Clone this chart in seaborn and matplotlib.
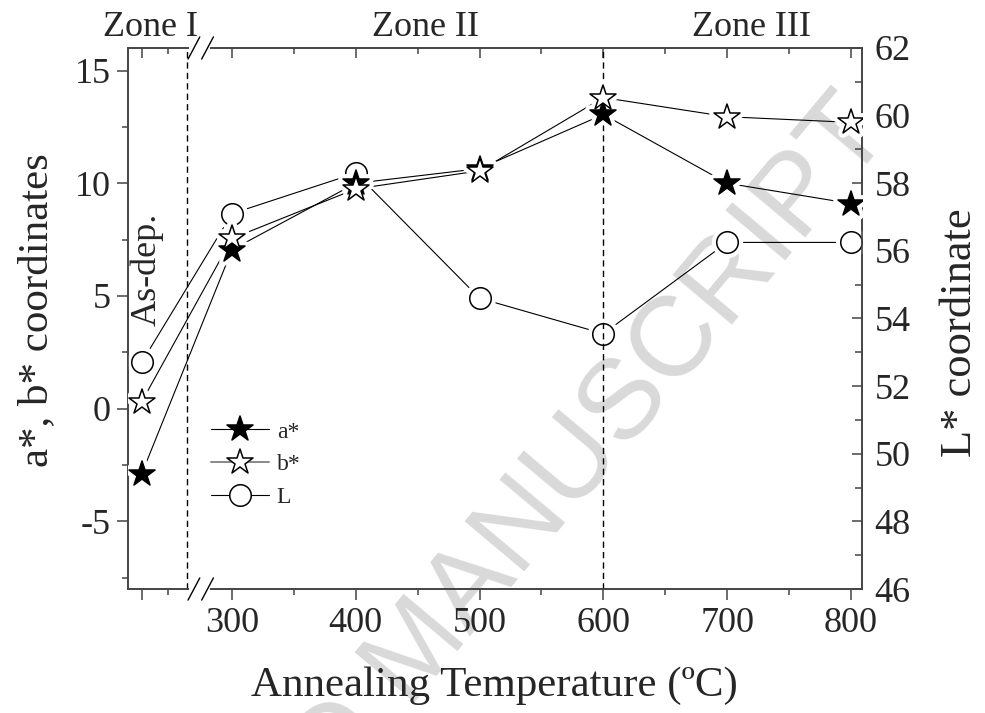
import matplotlib
matplotlib.use("Agg")
import matplotlib.pyplot as plt
from matplotlib.lines import Line2D
from matplotlib.markers import MarkerStyle
import matplotlib.transforms as mtransforms
import seaborn as sns
import pandas as pd

# ---------------- data ----------------
temps = [227, 300, 400, 500, 600, 700, 800]          # first point = as-deposited
a_star = [-2.9, 7.05, 10.0, 10.65, 13.05, 10.0, 9.1]
b_star = [0.3, 7.55, 9.75, 10.55, 13.8, 12.95, 12.7]
L_coord = [52.7, 57.1, 58.3, 54.6, 53.55, 56.25, 56.25]

x_major = [227, 300, 400, 500, 600, 700, 800]
x_labels = ["", "300", "400", "500", "600", "700", "800"]
x_minor = [248, 350, 450, 550, 650, 750]
left_ticks = [-5, 0, 5, 10, 15]
left_minor = [-7.5, -2.5, 2.5, 7.5, 12.5]
right_ticks = [46, 48, 50, 52, 54, 56, 58, 60, 62]
right_minor = [47, 49, 51, 53, 55, 57, 59, 61]
zones = ["Zone I", "Zone II", "Zone III"]
zone_bounds = [263.6, 600]

df = pd.DataFrame({"T": temps, "a": a_star, "b": b_star, "L": L_coord})

sns.set_theme(style="ticks")
plt.rcParams["font.family"] = ["Liberation Serif", "DejaVu Serif"]

fig = plt.figure(figsize=(9.85, 7.13), dpi=100)
fig.patch.set_facecolor("white")
ax = fig.add_axes([0.1297, 0.1739, 0.7454, 0.7588])
ax2 = ax.twinx()
ax.set_zorder(2)
ax2.set_zorder(1)
ax.set_facecolor("none")
ax2.set_facecolor("none")

# watermark
fig.text(0.9066, 0.8149, "ACCEPTED MANUSCRIPT", rotation=50, rotation_mode="anchor",
         ha="right", va="baseline", fontsize=82, color="#d9d9d9",
         family=["Liberation Sans", "DejaVu Sans"], zorder=0)

star = MarkerStyle("*", joinstyle="round")
circ = MarkerStyle("o")
ms_star = 19
ms_circ = 15.5
lw = 0.8

def draw_series(axis, col, marker, ms):
    sns.lineplot(data=df, x="T", y=col, ax=axis, sort=False, color="black",
                 linewidth=lw, zorder=2, legend=False)
    sns.lineplot(data=df, x="T", y=col, ax=axis, sort=False, linestyle="",
                 marker=marker, markersize=ms, markerfacecolor="white",
                 markeredgecolor="white", markeredgewidth=7, zorder=3, legend=False)

def draw_markers(axis, col, marker, ms, fc):
    sns.lineplot(data=df, x="T", y=col, ax=axis, sort=False, linestyle="",
                 marker=marker, markersize=ms, markerfacecolor=fc,
                 markeredgecolor="black", markeredgewidth=1.1, zorder=4, legend=False)

# L on right axis
draw_series(ax2, "L", circ, ms_circ)
draw_markers(ax2, "L", circ, ms_circ, "white")
# a*, b* on left axis
draw_series(ax, "a", star, ms_star)
draw_series(ax, "b", star, ms_star)
draw_markers(ax, "a", star, ms_star, "black")
draw_markers(ax, "b", star, ms_star, "white")

# limits
ax.set_xlim(215.8, 808.9)
ax.set_ylim(-8, 16)
ax2.set_ylim(46, 62)

# dashed zone lines
for xb in zone_bounds:
    ax.axvline(xb, color="black", linestyle=(0, (4.5, 3)), linewidth=1.0, zorder=1)

# ticks
ax.set_xticks(x_major)
ax.set_xticklabels(x_labels)
ax.set_xticks(x_minor, minor=True)
ax.set_yticks(left_ticks)
ax.set_yticklabels(["-5", "0", "5", "10", "15"])
ax.set_yticks(left_minor, minor=True)
ax2.set_yticks(right_ticks)
ax2.set_yticks(right_minor, minor=True)

spine_c = "#444444"
ax.tick_params(axis="x", which="both", direction="out", bottom=True, top=False,
               labelsize=26, pad=5, color=spine_c, width=1.1)
ax.tick_params(axis="x", which="major", length=8)
ax.tick_params(axis="x", which="minor", length=4.3)
ax.tick_params(axis="y", which="both", direction="out", left=True, right=False,
               labelsize=26, pad=4, color=spine_c, width=1.1)
ax.tick_params(axis="y", which="major", length=8)
ax.tick_params(axis="y", which="minor", length=4.3)
ax2.tick_params(axis="y", which="both", direction="in", right=True, left=False,
                labelsize=26, pad=9, color=spine_c, width=1.1)
ax2.tick_params(axis="y", which="major", length=7)
ax2.tick_params(axis="y", which="minor", length=5)

# top ticks (inward) via secondary x
top = ax.secondary_xaxis("top")
top.set_xticks(x_major)
top.set_xticklabels([""] * len(x_major))
top.set_xticks(x_minor, minor=True)
top.tick_params(axis="x", which="both", direction="in", color=spine_c, width=1.1)
top.tick_params(axis="x", which="major", length=7)
top.tick_params(axis="x", which="minor", length=4)
top.spines["top"].set_visible(False)

for a_ in (ax, ax2):
    for s in a_.spines.values():
        s.set_color(spine_c)
        s.set_linewidth(1.2)

ax.set_xlabel("Annealing Temperature (ºC)", fontsize=31)
ax.xaxis.set_label_coords(0.5, -0.144)
ax.set_ylabel("a*, b* coordinates", fontsize=31)
ax.yaxis.set_label_coords(-0.0976, 0.516)
ax2.set_ylabel("L* coordinate", fontsize=32)
ax2.yaxis.set_label_coords(1.1066, 0.4732)

# axis break marks
trans = mtransforms.blended_transform_factory(ax.transData, ax.transAxes)
dy = 0.0205
for yb in (0.0, 1.0):
    ax.add_line(Line2D([267, 281], [yb, yb], transform=trans, color="white",
                       linewidth=3, clip_on=False, zorder=5))
    for x0 in (264.5, 275.5):
        ax.add_line(Line2D([x0, x0 + 9.5], [yb - dy, yb + dy], transform=trans,
                           color="black", linewidth=1.0, clip_on=False, zorder=6))

# zone labels
fig.text(150.5 / 985, 1 - 28 / 713, zones[0], ha="center", va="center", fontsize=26)
fig.text(425 / 985, 1 - 28 / 713, zones[1], ha="center", va="center", fontsize=26)
fig.text(751 / 985, 1 - 28 / 713, zones[2], ha="center", va="center", fontsize=26)
ax.text(0.026, 0.59, "As-dep.", transform=ax.transAxes, rotation=90,
        ha="center", va="center", fontsize=26)

# legend
handles = [
    Line2D([], [], color="black", lw=lw, marker=star, markersize=ms_star,
           markerfacecolor="black", markeredgecolor="black", markeredgewidth=1.1),
    Line2D([], [], color="#888888", lw=lw + 0.6, marker=star, markersize=ms_star,
           markerfacecolor="white", markeredgecolor="black", markeredgewidth=1.1),
    Line2D([], [], color="black", lw=lw, marker=circ, markersize=ms_circ,
           markerfacecolor="white", markeredgecolor="black", markeredgewidth=1.1),
]
leg = ax.legend(handles, ["a*", "b*", "L"], loc="upper left",
                bbox_to_anchor=(211 / 985, 1 - 421 / 713), bbox_transform=fig.transFigure,
                frameon=False, fontsize=17, handlelength=2.47, handletextpad=0.31,
                labelspacing=0.47, borderpad=0, borderaxespad=0)
leg.set_zorder(10)

fig.savefig("out.png", dpi=100)
